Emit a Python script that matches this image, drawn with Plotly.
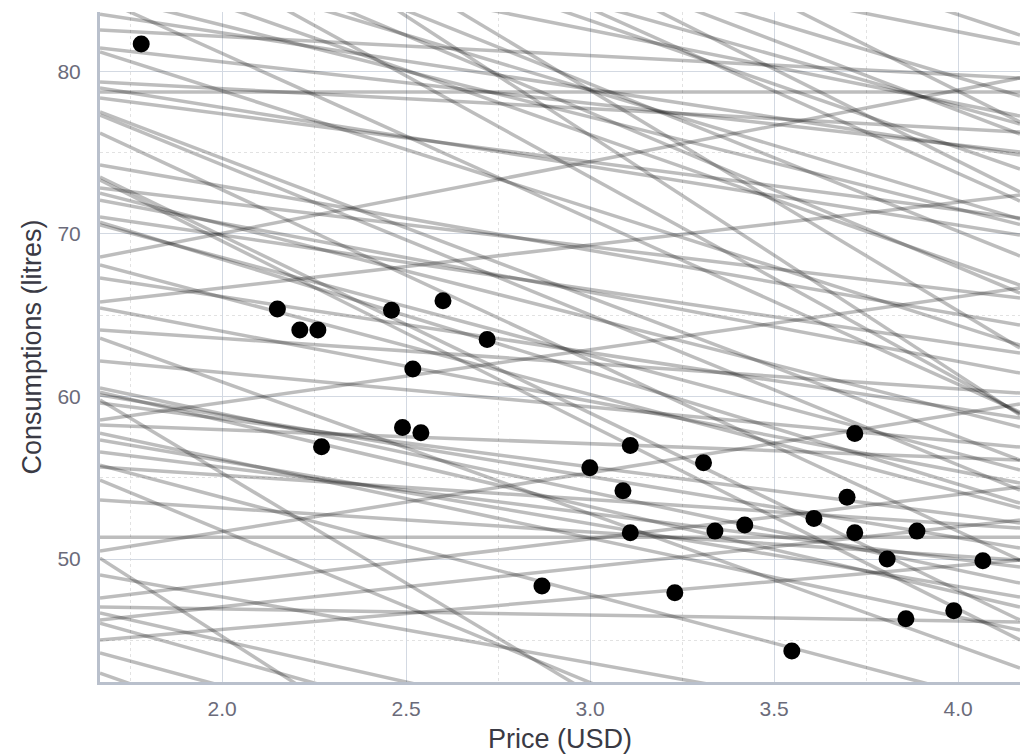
import plotly.graph_objects as go

# Observed data
price = [1.780, 2.150, 2.211, 2.260, 2.460, 2.600, 2.720, 2.518, 2.490, 2.540,
         2.270, 3.109, 2.999, 3.308, 3.089, 3.109, 3.339, 3.420, 2.869, 3.230,
         3.719, 3.698, 3.608, 3.719, 3.888, 3.807, 4.067, 3.988, 3.858, 3.548]
consumption = [81.68, 65.38, 64.09, 64.09, 65.30, 65.89, 63.51, 61.69, 58.10, 57.77,
               56.91, 56.99, 55.62, 55.92, 54.20, 51.62, 51.72, 52.09, 48.34, 47.93,
               57.73, 53.81, 52.50, 51.62, 51.72, 50.00, 49.90, 46.82, 46.33, 44.34]

# Sampled regression lines: value at the low and high end of the price span
line_price_span = [1.668, 4.168]
line_start = [83.52, 82.54, 81.43, 81.19, 79.34, 78.97, 78.73, 78.36, 77.50, 77.31,
              76.20, 74.24, 73.50, 73.31, 72.82, 72.51, 72.08, 71.04, 70.73, 70.55,
              68.58, 68.09, 67.29, 65.81, 65.44, 64.09, 63.59, 62.18, 60.52, 60.27,
              60.09, 59.60, 58.55, 58.24, 57.75, 57.32, 56.58, 55.78, 55.66, 53.63,
              51.35, 50.49, 50.06, 49.02, 47.60, 47.05, 46.68, 46.25, 46.06, 45.02,
              44.22, 42.99, 59.78, 54.86,
              84.48, 84.72, 86.66, 90.08, 87.89, 91.28, 96.93, 88.57, 93.55, 97.36,
              92.63, 100.87, 97.67, 95.46, 105.18, 92.90, 100.90, 95.64, 90.11]
line_end = [74.85, 79.59, 75.04, 63.16, 76.27, 69.93, 78.73, 70.98, 56.09, 54.24,
            49.94, 64.39, 46.25, 45.02, 66.06, 58.12, 61.44, 62.67, 53.44, 55.48,
            79.59, 53.14, 58.67, 72.39, 54.68, 60.21, 43.30, 56.89, 48.52, 47.05,
            50.68, 52.22, 66.67, 56.09, 45.63, 47.66, 49.51, 40.83, 51.91, 49.94,
            51.35, 59.54, 13.77, 38.87, 54.43, 46.13, 33.94, 52.40, 30.25, 49.94,
            29.02, 22.87, 25.95, 31.48,
            59.04, 70.58, 66.85, 58.95, 70.91, 68.64, 62.98, 77.25, 73.99, 72.02,
            76.76, 72.58, 76.14, 78.48, 76.88, 81.68, 82.23, 58.86, 66.36]

fig = go.Figure()
for a, b in zip(line_start, line_end):
    fig.add_trace(go.Scatter(
        x=line_price_span, y=[a, b], mode="lines",
        line=dict(color="rgba(0,0,0,0.26)", width=3.5),
        hoverinfo="skip", showlegend=False))

fig.add_trace(go.Scatter(
    x=price, y=consumption, mode="markers",
    marker=dict(color="black", size=17),
    showlegend=False))

tick_font = dict(family="Liberation Sans, Arial", size=21, color="#6b6b7a")
title_font = dict(family="Liberation Sans, Arial", size=27, color="#3a3a44")

axis_common = dict(
    showline=True, linecolor="#b9c0cc", linewidth=3,
    showgrid=True, gridcolor="#d3d9e2", gridwidth=1,
    zeroline=False,
    ticks="outside", tickcolor="rgba(0,0,0,0)",
    tickfont=tick_font,
    automargin=False,
)

fig.update_layout(
    width=1020, height=756,
    margin=dict(l=100, r=0, t=12, b=74, autoexpand=False),
    paper_bgcolor="white", plot_bgcolor="white",
    xaxis=dict(range=[1.668, 4.168], dtick=0.5, tickformat=".1f", ticklen=6,
               minor=dict(dtick=0.25, showgrid=True, gridcolor="#e2e2e2", griddash="dot"),
               title=dict(text="Price (USD)", standoff=10, font=title_font),
               **axis_common),
    yaxis=dict(range=[42.44, 83.65], dtick=10, ticklen=12,
               minor=dict(dtick=5, showgrid=True, gridcolor="#e2e2e2", griddash="dot"),
               title=dict(text="Consumptions (litres)", standoff=8, font=title_font),
               **axis_common),
)

fig.write_html("out.html", config={"displayModeBar": False},
               post_script="document.body.style.margin='0';document.body.style.overflow='hidden';")
